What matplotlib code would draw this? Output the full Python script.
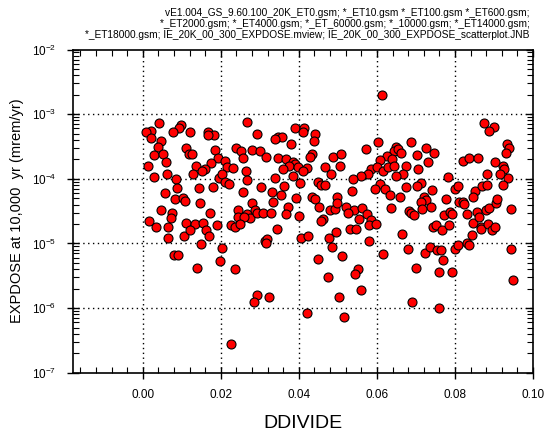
import matplotlib
matplotlib.use("Agg")
import matplotlib.pyplot as plt
from matplotlib import lines as mlines
from matplotlib.ticker import LogLocator, MultipleLocator, NullFormatter

plt.rcParams['font.family'] = ['Liberation Sans', 'DejaVu Sans']

title_lines = [
    "vE1.004_GS_9.60.100_20K_ET0.gsm; *_ET10.gsm *_ET100.gsm *_ET600.gsm;",
    "*_ET2000.gsm; *_ET4000.gsm; *_ET_60000.gsm; *_10000.gsm; *_ET14000.gsm;",
    "*_ET18000.gsm; IE_20K_00_300_EXPDOSE.mview; IE_20K_00_300_EXPDOSE_scatterplot.JNB",
]

# DDIVIDE sample values
ddivide = [
    0.0041, 0.0097, 0.0093, 0.0022, 0.0008, 0.0078, 0.0122, 0.0166, 0.0183, 0.0020,
    0.0047, 0.0038, 0.0112, 0.0185, 0.0029, 0.0053, 0.0118, 0.0126, 0.0192, 0.0013,
    0.0059, 0.0137, 0.0176, 0.0159, 0.0151, 0.0130, 0.0061, 0.0030, 0.0086, 0.0196,
    0.0180, 0.0088, 0.0144, 0.0056, 0.0082, 0.0103, 0.0109, 0.0146, 0.0048, 0.0074,
    0.0172, 0.0072, 0.0016, 0.0112, 0.0133, 0.0155, 0.0035, 0.0065, 0.0189, 0.0064,
    0.0105, 0.0121, 0.0161, 0.0170, 0.0149, 0.0081, 0.0091, 0.0138, 0.0267, 0.0390,
    0.0414, 0.0411, 0.0294, 0.0347, 0.0357, 0.0338, 0.0441, 0.0438, 0.0381, 0.0238,
    0.0253, 0.0280, 0.0300, 0.0315, 0.0257, 0.0434, 0.0429, 0.0487, 0.0509, 0.0571,
    0.0347, 0.0366, 0.0385, 0.0390, 0.0374, 0.0398, 0.0420, 0.0411, 0.0360, 0.0385,
    0.0467, 0.0505, 0.0482, 0.0586, 0.0576, 0.0559, 0.0539, 0.0210, 0.0215, 0.0230,
    0.0203, 0.0264, 0.0268, 0.0338, 0.0403, 0.0449, 0.0456, 0.0467, 0.0362, 0.0302,
    0.0210, 0.0221, 0.0257, 0.0330, 0.0354, 0.0392, 0.0334, 0.0279, 0.0434, 0.0441,
    0.0451, 0.0479, 0.0492, 0.0498, 0.0498, 0.0535, 0.0522, 0.0542, 0.0562, 0.0525,
    0.0553, 0.0574, 0.0585, 0.0244, 0.0243, 0.0266, 0.0274, 0.0287, 0.0292, 0.0307,
    0.0328, 0.0371, 0.0368, 0.0401, 0.0259, 0.0462, 0.0458, 0.0227, 0.0236, 0.0249,
    0.0343, 0.0313, 0.0319, 0.0315, 0.0202, 0.0197, 0.0236, 0.0292, 0.0285, 0.0323,
    0.0225, 0.0405, 0.0424, 0.0478, 0.0495, 0.0484, 0.0531, 0.0546, 0.0580, 0.0579,
    0.0448, 0.0511, 0.0474, 0.0552, 0.0544, 0.0558, 0.0503, 0.0420, 0.0516, 0.0597,
    0.0614, 0.0874, 0.0900, 0.0888, 0.0933, 0.0938, 0.0931, 0.0604, 0.0687, 0.0649,
    0.0644, 0.0655, 0.0663, 0.0725, 0.0747, 0.0702, 0.0732, 0.0627, 0.0638, 0.0608,
    0.0821, 0.0837, 0.0858, 0.0903, 0.0922, 0.0926, 0.0915, 0.0937, 0.0883, 0.0922,
    0.0601, 0.0616, 0.0629, 0.0643, 0.0674, 0.0668, 0.0649, 0.0706, 0.0783, 0.0608,
    0.0595, 0.0621, 0.0634, 0.0674, 0.0713, 0.0704, 0.0659, 0.0741, 0.0721, 0.0727,
    0.0712, 0.0738, 0.0715, 0.0683, 0.0687, 0.0696, 0.0636, 0.0777, 0.0772, 0.0787,
    0.0792, 0.0800, 0.0808, 0.0810, 0.0820, 0.0824, 0.0852, 0.0847, 0.0870, 0.0881,
    0.0832, 0.0856, 0.0879, 0.0888, 0.0905, 0.0909, 0.0944, 0.0616, 0.0665, 0.0680,
    0.0699, 0.0691, 0.0723, 0.0736, 0.0744, 0.0751, 0.0766, 0.0785, 0.0755, 0.0764,
    0.0770, 0.0759, 0.0792, 0.0759, 0.0800, 0.0809, 0.0830, 0.0837, 0.0844, 0.0847,
    0.0866, 0.0867, 0.0885, 0.0896, 0.0903, 0.0944, 0.0950, 0.0862, 0.0168,
]

# EXPDOSE at 10,000 yr (mrem/yr), same order as ddivide
expdose = [
    7.2e-4, 6.9e-4, 6.2e-4, 5.5e-4, 5.2e-4, 5.3e-4, 5.3e-4, 5.3e-4, 4.7e-4, 4.3e-4,
    3.8e-4, 3.1e-4, 3.0e-4, 2.8e-4, 2.3e-4, 2.4e-4, 2.4e-4, 2.4e-4, 2.1e-4, 1.6e-4,
    1.8e-4, 1.6e-4, 1.75e-4, 1.4e-4, 1.3e-4, 1.2e-4, 1.2e-4, 1.05e-4, 9.9e-5, 1.04e-4,
    7.5e-5, 7.3e-5, 7.2e-5, 6.0e-5, 4.9e-5, 5.0e-5, 4.6e-5, 4.2e-5, 3.3e-5, 3.0e-5,
    3.0e-5, 2.5e-5, 2.2e-5, 2.1e-5, 2.0e-5, 2.1e-5, 1.8e-5, 1.8e-5, 1.9e-5, 1.2e-5,
    1.3e-5, 1.6e-5, 1.6e-5, 1.3e-5, 9.8e-6, 6.6e-6, 6.6e-6, 4.1e-6, 7.6e-4, 6.2e-4,
    6.2e-4, 5.3e-4, 4.9e-4, 4.5e-4, 4.4e-4, 4.1e-4, 4.9e-4, 3.9e-4, 3.4e-4, 3.0e-4,
    2.7e-4, 2.8e-4, 2.7e-4, 2.2e-4, 2.1e-4, 2.4e-4, 2.2e-4, 2.2e-4, 2.4e-4, 2.9e-4,
    2.1e-4, 2.0e-4, 1.8e-4, 1.7e-4, 1.6e-4, 1.5e-4, 1.45e-4, 1.3e-4, 1.4e-4, 1.1e-4,
    1.5e-4, 1.6e-4, 1.2e-4, 1.4e-4, 1.2e-4, 1.1e-4, 9.9e-5, 1.9e-4, 1.5e-4, 1.45e-4,
    1.2e-4, 1.3e-4, 9.5e-5, 1.03e-4, 8.5e-5, 9.0e-5, 8.0e-5, 8.0e-5, 7.8e-5, 7.5e-5,
    8.8e-5, 8.2e-5, 6.3e-5, 6.3e-5, 5.6e-5, 5.1e-5, 4.3e-5, 4.2e-5, 5.3e-5, 4.9e-5,
    3.6e-5, 3.3e-5, 3.4e-5, 5.3e-5, 4.2e-5, 6.4e-5, 3.6e-5, 3.3e-5, 3.5e-5, 3.0e-5,
    2.4e-5, 2.9e-5, 2.3e-5, 3.3e-5, 2.6e-5, 2.9e-5, 2.5e-5, 3.3e-5, 3.0e-5, 2.95e-5,
    3.0e-5, 3.6e-5, 2.9e-5, 2.7e-5, 2.55e-5, 2.4e-5, 2.2e-5, 1.9e-5, 1.8e-5, 2.0e-5,
    1.7e-5, 1.1e-5, 1.15e-5, 1.0e-5, 8.4e-6, 5.4e-6, 4.0e-6, 1.6e-6, 1.25e-6, 1.5e-6,
    2.8e-7, 1.2e-5, 1.3e-5, 1.2e-5, 1.5e-5, 8.9e-6, 1.7e-5, 1.7e-5, 1.9e-5, 1.1e-5,
    5.7e-6, 6.4e-6, 3.0e-6, 4.0e-6, 3.4e-6, 1.9e-6, 1.5e-6, 8.3e-7, 7.2e-7, 2.0e-5,
    1.95e-3, 7.2e-4, 6.3e-4, 5.5e-4, 3.5e-4, 3.0e-4, 2.5e-4, 3.7e-4, 3.7e-4, 3.1e-4,
    2.7e-4, 2.85e-4, 2.5e-4, 3.0e-4, 2.5e-4, 2.3e-4, 1.8e-4, 2.25e-4, 2.0e-4, 1.95e-4,
    1.9e-4, 2.1e-4, 2.1e-4, 1.8e-4, 1.6e-4, 1.4e-4, 1.2e-4, 1.03e-4, 1.2e-4, 8.0e-5,
    1.5e-4, 1.3e-4, 1.5e-4, 1.6e-4, 1.6e-4, 1.2e-4, 1.1e-4, 1.4e-4, 1.05e-4, 8.3e-5,
    6.9e-5, 6.9e-5, 5.6e-5, 7.4e-5, 8.7e-5, 7.6e-5, 5.3e-5, 6.6e-5, 5.2e-5, 4.7e-5,
    4.3e-5, 3.6e-5, 3.4e-5, 3.2e-5, 3.0e-5, 2.8e-5, 3.5e-5, 4.8e-5, 2.8e-5, 3.1e-5,
    2.9e-5, 6.9e-5, 7.6e-5, 4.4e-5, 4.4e-5, 4.1e-5, 6.4e-5, 5.2e-5, 7.8e-5, 8.1e-5,
    2.9e-5, 3.1e-5, 3.3e-5, 3.5e-5, 4.2e-5, 4.9e-5, 3.4e-5, 6.8e-6, 1.4e-5, 8.3e-6,
    4.2e-6, 1.25e-6, 7.2e-6, 8.9e-6, 1.8e-5, 1.9e-5, 1.6e-5, 1.9e-5, 7.9e-6, 7.9e-6,
    5.5e-6, 3.6e-6, 3.6e-6, 1.0e-6, 8.3e-6, 9.5e-6, 1.02e-5, 9.3e-6, 1.35e-5, 2.1e-5,
    1.8e-5, 1.65e-5, 2.0e-5, 1.6e-5, 1.8e-5, 8.3e-6, 2.7e-6, 2.6e-5, 4.8e-4,
]

fig = plt.figure(figsize=(5.44, 4.32), dpi=100)
ax = fig.add_axes([0.1333, 0.1373, 0.8465, 0.7481])

ax.scatter(ddivide, expdose, s=42, c='#ff0000', edgecolors='black',
           linewidths=0.8, zorder=3, clip_on=False)

ax.set_yscale('log')
ax.set_xlim(-0.018, 0.10)
ax.set_ylim(1e-7, 1e-2)

ax.xaxis.set_minor_locator(MultipleLocator(0.004))
ax.yaxis.set_minor_locator(LogLocator(base=10, subs=range(2, 10), numticks=20))
ax.yaxis.set_minor_formatter(NullFormatter())
ax.set_xticks([0.00, 0.02, 0.04, 0.06, 0.08, 0.10])
ax.set_xticklabels(['0.00', '0.02', '0.04', '0.06', '0.08', '0.10'])
ax.set_yticks([1e-7, 1e-6, 1e-5, 1e-4, 1e-3, 1e-2])

ax.tick_params(which='major', direction='inout', length=9, width=1.0,
               labelsize=8.5, top=True, right=True, pad=7)
ax.tick_params(which='minor', direction='in', length=4, width=0.8,
               top=True, right=True)

# top and right major ticks point inward only
for t in ax.xaxis.get_major_ticks():
    t.tick2line.set_marker(mlines.TICKDOWN)
    t.tick2line.set_markersize(5)
for t in ax.yaxis.get_major_ticks():
    t.tick2line.set_marker(mlines.TICKLEFT)
    t.tick2line.set_markersize(5)

for sp in ax.spines.values():
    sp.set_linewidth(1.2)

# dotted grid at the major ticks
for xv in [0.00, 0.02, 0.04, 0.06, 0.08]:
    ax.axvline(xv, color='black', linestyle=(0, (1, 2.5)), linewidth=1.0, zorder=1)
for yv in [1e-3, 1e-4, 1e-5, 1e-6]:
    ax.axhline(yv, color='black', linestyle=(0, (1, 2.5)), linewidth=1.0, zorder=1)

ax.set_xlabel('DDIVIDE', fontsize=14, labelpad=10)
ax.set_ylabel('EXPDOSE at 10,000  yr (mrem/yr)', fontsize=10.5, labelpad=6)

fig.text(0.974, 0.981, "\n".join(title_lines), ha='right', va='top',
         fontsize=7.3, multialignment='right', linespacing=1.12)

fig.savefig('out.png', dpi=100)
